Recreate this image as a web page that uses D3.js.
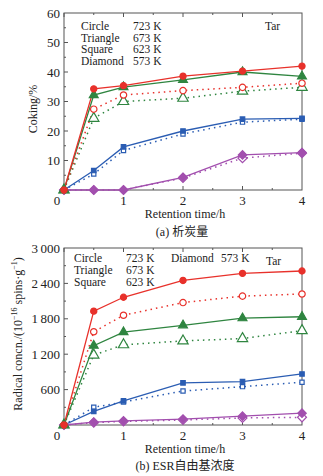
<!DOCTYPE html>
<html>
<head>
<meta charset="utf-8">
<script src="https://cdn.jsdelivr.net/npm/d3@7"></script>
<style>
body { margin: 0; background: #fff; }
text { font-family: "Liberation Serif", "Times New Roman", serif; fill: #222; }
.cjk { font-family: "Noto Sans CJK SC", sans-serif; }
</style>
</head>
<body>
<svg width="323" height="476"></svg>
<script>
// retention time (h)
const times = [0, 0.5, 1, 2, 3, 4];

// (a) coking, %
const cokCircleSolid = [0, 34.3, 35.4, 38.6, 40.3, 42.0];
const cokCircleOpen = [0, 27.4, 32.2, 33.7, 34.8, 36.2];
const cokTriSolid = [0, 32.2, 34.9, 37.3, 40.0, 38.5];
const cokTriOpen = [0, 24.3, 30.0, 31.1, 33.5, 34.8];
const cokSqSolid = [0, 6.6, 14.6, 20.0, 24.0, 24.3];
const cokSqOpen = [0, 5.4, 13.4, 19.0, 23.0, 24.0];
const cokDiaSolid = [0, 0, 0, 4.3, 11.9, 12.7];
const cokDiaOpen = [0, 0, 0, 4.1, 10.8, 12.5];

// (b) ESR radical concentration, 10^16 spins/g
const esrCircleSolid = [0, 1930, 2165, 2450, 2570, 2610];
const esrCircleOpen = [0, 1580, 1860, 2075, 2185, 2220];
const esrTriSolid = [0, 1345, 1575, 1690, 1810, 1835];
const esrTriOpen = [0, 1185, 1360, 1425, 1465, 1600];
const esrSqSolid = [0, 230, 410, 715, 735, 865];
const esrSqOpen = [0, 300, 390, 575, 650, 725];
const esrDiaSolid = [0, 50, 70, 100, 150, 200];
const esrDiaOpen = [0, 40, 60, 85, 120, 130];

const cokTicks = [10, 20, 30, 40, 50, 60];
const esrTicks = [600, 1200, 1800, 2400, 3000];
const timeTicks = [0, 1, 2, 3, 4];

const colors = {circle: '#e8312b', triangle: '#2f8540', square: '#2b5db3', diamond: '#a24fae'};

const svg = d3.select('svg');

function fmt(v) {
    return v >= 1000 ? d3.format(',')(v).replace(',', '\u2009') : String(v);
}

function marker(g, shape, filled, x, y, color) {
    let type, size, rot = 0;
    if (shape == 'circle') { type = d3.symbolCircle; size = filled ? 30 : 32; }
    if (shape == 'triangle') { type = d3.symbolTriangle; size = filled ? 34 : 46; }
    if (shape == 'square') { type = d3.symbolSquare; size = filled ? 20 : 18; }
    if (shape == 'diamond') { type = d3.symbolSquare; size = filled ? 36 : 40; rot = 45; }
    g.append('path')
        .attr('d', d3.symbol().type(type).size(size)())
        .attr('transform', `translate(${x},${y}) rotate(${rot})`)
        .attr('fill', filled ? color : '#fff')
        .attr('stroke', color)
        .attr('stroke-width', 1.2);
}

function panel(cfg) {
    const x = d3.scaleLinear().domain([0, 4]).range([64, 302]);
    const y = d3.scaleLinear().domain([0, cfg.max]).range([cfg.bottom, cfg.top]);
    const g = svg.append('g');

    // frame
    g.append('rect')
        .attr('x', x(0)).attr('y', y(cfg.max))
        .attr('width', x(4) - x(0)).attr('height', y(0) - y(cfg.max))
        .attr('fill', 'none').attr('stroke', '#555').attr('stroke-width', 1);

    // inward ticks, majors and half-step minors
    d3.range(0, cfg.max, cfg.step / 2).forEach(v => {
        const len = cfg.ticks.includes(v) ? 4 : 2;
        g.append('line').attr('x1', x(0)).attr('x2', x(0) + len)
            .attr('y1', y(v)).attr('y2', y(v)).attr('stroke', '#555');
    });
    d3.range(0, 4, 0.5).forEach(v => {
        const len = timeTicks.includes(v) ? 4 : 2;
        g.append('line').attr('x1', x(v)).attr('x2', x(v))
            .attr('y1', y(0)).attr('y2', y(0) - len).attr('stroke', '#555');
        g.append('line').attr('x1', x(v)).attr('x2', x(v))
            .attr('y1', y(cfg.max)).attr('y2', y(cfg.max) + len).attr('stroke', '#555');
    });

    g.selectAll('.ylab').data(cfg.ticks).enter().append('text')
        .attr('x', x(0) - 4).attr('y', d => y(d) + 4.5)
        .attr('text-anchor', 'end').attr('font-size', 13)
        .text(fmt);
    g.selectAll('.xlab').data(timeTicks).enter().append('text')
        .attr('x', d => d == 0 ? x(d) - 7 : x(d)).attr('y', y(0) + 15)
        .attr('text-anchor', 'middle').attr('font-size', 13)
        .text(d => d);

    g.append('text').attr('x', 185).attr('y', y(0) + 28)
        .attr('text-anchor', 'middle').attr('font-size', 12)
        .text('Retention time/h');

    // series
    const line = d3.line().x((d, i) => x(times[i])).y(d => y(d));
    cfg.series.forEach(s => {
        const c = colors[s.shape];
        g.append('path').datum(s.values)
            .attr('d', line)
            .attr('fill', 'none').attr('stroke', c)
            .attr('stroke-width', s.filled ? 1.3 : 1.5)
            .attr('stroke-dasharray', s.filled ? null : '1.5,4');
    });
    cfg.series.forEach(s => {
        s.values.forEach((v, i) => marker(g, s.shape, s.filled, x(times[i]), y(v), colors[s.shape]));
    });
    return g;
}

const panelA = panel({
    max: 60, step: 10, ticks: cokTicks, top: 13, bottom: 190,
    series: [
        {shape: 'diamond', filled: false, values: cokDiaOpen},
        {shape: 'diamond', filled: true, values: cokDiaSolid},
        {shape: 'square', filled: false, values: cokSqOpen},
        {shape: 'square', filled: true, values: cokSqSolid},
        {shape: 'triangle', filled: false, values: cokTriOpen},
        {shape: 'circle', filled: false, values: cokCircleOpen},
        {shape: 'triangle', filled: true, values: cokTriSolid},
        {shape: 'circle', filled: true, values: cokCircleSolid}
    ]
});

const panelB = panel({
    max: 3000, step: 600, ticks: esrTicks, top: 248, bottom: 425,
    series: [
        {shape: 'diamond', filled: false, values: esrDiaOpen},
        {shape: 'diamond', filled: true, values: esrDiaSolid},
        {shape: 'square', filled: false, values: esrSqOpen},
        {shape: 'square', filled: true, values: esrSqSolid},
        {shape: 'triangle', filled: false, values: esrTriOpen},
        {shape: 'circle', filled: false, values: esrCircleOpen},
        {shape: 'triangle', filled: true, values: esrTriSolid},
        {shape: 'circle', filled: true, values: esrCircleSolid}
    ]
});

// legends
const legA = [['Circle', '723 K'], ['Triangle', '673 K'], ['Square', '623 K'], ['Diamond', '573 K']];
legA.forEach((r, i) => {
    panelA.append('text').attr('x', 81).attr('y', 30 + i * 11.7).attr('font-size', 11.5).text(r[0]);
    panelA.append('text').attr('x', 133).attr('y', 30 + i * 11.7).attr('font-size', 11.5).text(r[1]);
});
panelA.append('text').attr('x', 265).attr('y', 30).attr('font-size', 11.5).text('Tar');

const legB = [['Circle', '723 K'], ['Triangle', '673 K'], ['Square', '623 K']];
legB.forEach((r, i) => {
    panelB.append('text').attr('x', 74).attr('y', 262 + i * 12.2).attr('font-size', 11.5).text(r[0]);
    panelB.append('text').attr('x', 126).attr('y', 262 + i * 12.2).attr('font-size', 11.5).text(r[1]);
});
panelB.append('text').attr('x', 171).attr('y', 262).attr('font-size', 11.5).text('Diamond');
panelB.append('text').attr('x', 221).attr('y', 262).attr('font-size', 11.5).text('573 K');
panelB.append('text').attr('x', 266).attr('y', 265).attr('font-size', 11.5).text('Tar');

// axis titles
panelA.append('text').attr('transform', 'translate(37,109) rotate(-90)')
    .attr('text-anchor', 'middle').attr('font-size', 12).text('Coking/%');

const yt = panelB.append('text').attr('transform', 'translate(22,334) rotate(-90)')
    .attr('text-anchor', 'middle').attr('font-size', 12);
yt.append('tspan').text('Radical concn./(10');
yt.append('tspan').attr('dy', -5).attr('font-size', 8).text('\u221216');
yt.append('tspan').attr('dy', 5).text(' spins\u00b7g');
yt.append('tspan').attr('dy', -5).attr('font-size', 8).text('\u22121');
yt.append('tspan').attr('dy', 5).text(')');

// captions
svg.append('text').attr('x', 182).attr('y', 236).attr('text-anchor', 'middle')
    .attr('font-size', 12).html('(a) <tspan class="cjk">析炭量</tspan>');
svg.append('text').attr('x', 185).attr('y', 470).attr('text-anchor', 'middle')
    .attr('font-size', 12).html('(b) ESR<tspan class="cjk">自由基浓度</tspan>');
</script>
</body>
</html>
